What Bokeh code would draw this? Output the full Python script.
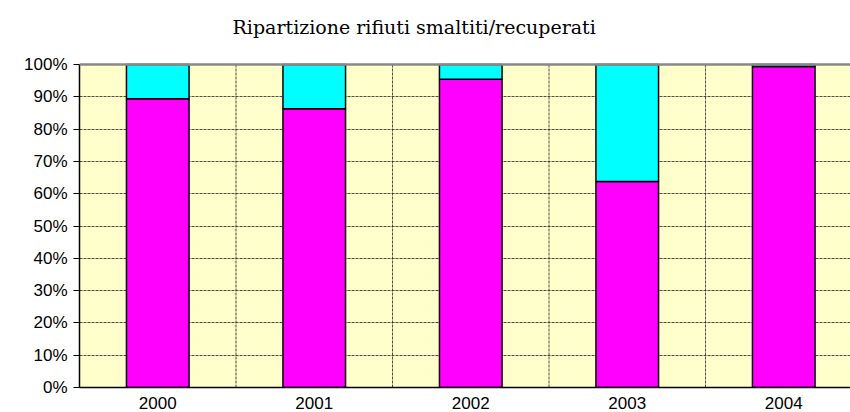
from bokeh.plotting import figure
from bokeh.models import FixedTicker, Range1d, Span, Label, ColumnDataSource, BoxAnnotation
from bokeh.embed import file_html
from bokeh.resources import INLINE

years = ["2000", "2001", "2002", "2003", "2004"]
smaltiti = [89.4, 86.3, 95.4, 63.8, 99.4]
recuperati = [10.6, 13.7, 4.6, 36.2, 0.6]
y_ticks = [0, 10, 20, 30, 40, 50, 60, 70, 80, 90, 100]
y_labels = ["0%", "10%", "20%", "30%", "40%", "50%", "60%", "70%", "80%", "90%", "100%"]
title_text = "Ripartizione rifiuti smaltiti/recuperati"

xpos = [i + 0.5 for i in range(len(years))]
bounds_x = [i + 1 for i in range(len(years))]
src = ColumnDataSource(dict(x=xpos, s=smaltiti, r=recuperati,
                            top_r=[a + b for a, b in zip(smaltiti, recuperati)]))

PLOT_TOP = 387  # pixel of the x axis; 100% sits 323 px above it
p = figure(width=850, height=412, output_backend="svg", toolbar_location=None,
           x_range=Range1d(0, 771 / 156.5), y_range=Range1d(0, 100 * PLOT_TOP / 323),
           min_border_left=79, min_border_right=0, min_border_top=0, min_border_bottom=25)
p.background_fill_color = "white"
p.outline_line_color = None
p.add_layout(BoxAnnotation(bottom=0, top=100, fill_color="#FFFFCC", fill_alpha=1,
                           line_color=None, level="image"))

# horizontal grid
p.ygrid.ticker = FixedTicker(ticks=y_ticks)
p.ygrid.grid_line_color = "#222222"
p.ygrid.grid_line_dash = "3 1"
p.ygrid.grid_line_alpha = 0.8
p.xgrid.visible = False
# vertical grid lines at category boundaries, limited to the plot area
p.segment(x0=bounds_x, x1=bounds_x, y0=[0] * len(bounds_x), y1=[100] * len(bounds_x),
          line_color="#222222", line_dash="3 1", line_alpha=0.8, level="underlay")

p.vbar(x="x", bottom=0, top="s", width=0.4, source=src,
       fill_color="#FF00FF", line_color="black", line_width=1.5)
p.vbar(x="x", bottom="s", top="top_r", width=0.4, source=src,
       fill_color="#00FFFF", line_color="black", line_width=1.5)

p.add_layout(Span(location=100, dimension="width", line_color="#888888", line_width=2.5))

# axes
p.yaxis.ticker = FixedTicker(ticks=y_ticks)
p.yaxis.bounds = (0, 100)
p.yaxis.major_label_overrides = {t: l for t, l in zip(y_ticks, y_labels)}
p.yaxis.minor_tick_line_color = None
p.yaxis.major_tick_out = 6
p.yaxis.major_tick_in = 0
p.yaxis.axis_line_color = "black"
p.yaxis.axis_line_width = 1.5
p.yaxis.major_label_text_font = "Liberation Sans"
p.yaxis.major_label_text_font_size = "17px"
p.yaxis.major_label_text_color = "black"
p.yaxis.major_label_standoff = 6

p.xaxis.ticker = FixedTicker(ticks=xpos)
p.xaxis.major_label_overrides = {x: y for x, y in zip(xpos, years)}
p.xaxis.minor_tick_line_color = None
p.xaxis.major_tick_line_color = None
p.xaxis.axis_line_color = "black"
p.xaxis.axis_line_width = 1.5
p.xaxis.major_label_text_font = "Liberation Sans"
p.xaxis.major_label_text_font_size = "17px"
p.xaxis.major_label_text_color = "black"
p.xaxis.major_label_standoff = 3

lbl = Label(x=0.978, y=111.5, text=title_text, text_font="DejaVu Serif",
            text_font_size="19px", text_color="black", text_baseline="alphabetic",
            text_align="left")
p.add_layout(lbl)

open("out.html", "w").write(file_html(p, INLINE))
